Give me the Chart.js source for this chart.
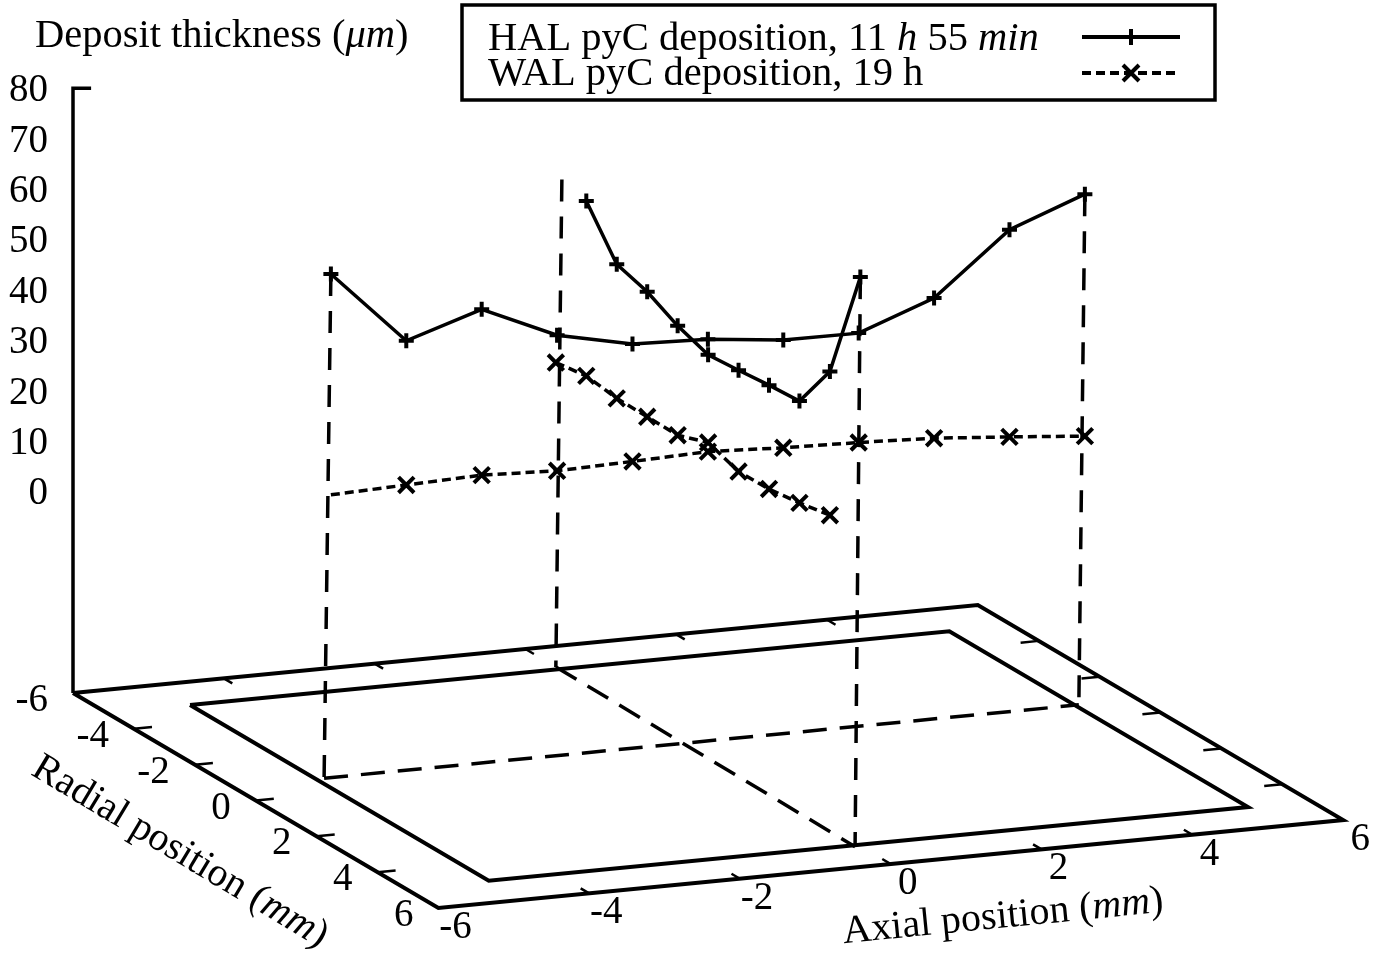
<!DOCTYPE html>
<html>
<head>
<meta charset="utf-8">
<style>
html, body { margin: 0; padding: 0; background: #fff; }
#wrap { width: 1388px; height: 962px; }
</style>
<script src="https://cdn.jsdelivr.net/npm/chart.js@4.4.1/dist/chart.umd.min.js"></script>
</head>
<body>
<div id="wrap"><canvas id="chart" width="1388" height="962"></canvas></div>
<script>
// ---- values ----
// axial scan (radial position fixed)
const axialPos = [-4.7, -3.7, -2.7, -1.7, -0.7, 0.3, 1.3, 2.3, 3.3, 4.3, 5.3];
const axialScanRadial = -0.75;
const halAxial = [59.9, 45.2, 50.0, 43.4, 40.2, 39.7, 38.1, 38.0, 43.5, 55.6, 61.2];
const walAxial = [16.1, 16.6, 17.1, 16.5, 16.9, 17.4, 16.7, 16.3, 15.7, 14.5, 13.2];

// radial scan (axial position fixed)
const radialScanAxial = 0;
const halRadialPos = [-4, -3, -2, -1, 0, 1, 2, 3, 4, 5];
const halRadial = [56.0, 47.0, 45.1, 41.9, 39.7, 40.2, 40.8, 41.2, 50.6, 72.9];
const walRadialPos = [-5, -4, -3, -2, -1, 0, 1, 2, 3, 4];
const walRadial = [20.4, 21.3, 20.4, 20.3, 20.2, 22.3, 20.1, 20.2, 21.0, 22.1];

// drop lines down to the base plane (top end, base end)
const dropTopAxial = [-4.7, 5.3, 0.08, 0];
const dropBaseAxial = [-4.79, 5.22, 0, -0.07];
const dropRadial = [-0.75, -0.75, -5, 5];
const dropTop = [59.9, 61.2, 56.6, 72.9];

// axes / base plane
const zTicks = [0, 10, 20, 30, 40, 50, 60, 70, 80];
const planeTicks = [-6, -4, -2, 0, 2, 4, 6];
const planeRange = [-6, 6];
const sampleAxial = [-4.9, 5.17];
const sampleRadial = [-4.88, 4.93];
const zBase = -40;

// ---- view ----
const W = 1388, H = 962;
const VIEW = { ox: 73, oy: 693, ax: 75.4, ay: -7.33, rx: 30.45, ry: 17.92, zs: 5.04 };

function project(a, r, z) {
    return {
        x: VIEW.ox + (a + 6) * VIEW.ax + (r + 6) * VIEW.rx,
        y: VIEW.oy + (a + 6) * VIEW.ay + (r + 6) * VIEW.ry - (z - zBase) * VIEW.zs
    };
}

const GAP = { x: null, y: null };

function segments(list) {
    const out = [];
    list.forEach((seg, i) => {
        if (i) out.push(GAP);
        seg.forEach(p => out.push(project(p[0], p[1], p[2])));
    });
    return out;
}

function lineSet(data, extra) {
    return Object.assign({
        data,
        showLine: true,
        borderColor: '#000',
        backgroundColor: '#000',
        borderWidth: 3.5,
        pointRadius: 0,
        spanGaps: false,
        clip: false
    }, extra);
}

// base rectangles
const [lo, hi] = planeRange;
const zTop = zTicks[zTicks.length - 1];
const outerRect = segments([[[lo, lo, zBase], [hi, lo, zBase], [hi, hi, zBase], [lo, hi, zBase], [lo, lo, zBase]]]);
const innerRect = segments([[
    [sampleAxial[0], sampleRadial[0], zBase], [sampleAxial[1], sampleRadial[0], zBase],
    [sampleAxial[1], sampleRadial[1], zBase], [sampleAxial[0], sampleRadial[1], zBase],
    [sampleAxial[0], sampleRadial[0], zBase]
]]);

// tick marks on the base frame
const tickSegs = [];
planeTicks.slice(1, -1).forEach(t => {
    tickSegs.push([[lo, t, zBase], [lo + 0.24, t, zBase]]);
    tickSegs.push([[hi, t, zBase], [hi - 0.24, t, zBase]]);
    tickSegs.push([[t, hi, zBase], [t, hi - 0.28, zBase]]);
    tickSegs.push([[t, lo, zBase], [t, lo + 0.28, zBase]]);
});
// z axis with a level tick at its top
const topTickLen = 0.24;
const topTickLevel = zTop + topTickLen * VIEW.ay / VIEW.zs;
const zAxis = segments([[[lo, lo, zBase], [lo, lo, zTop], [lo + topTickLen, lo, topTickLevel]]]);

const baseScan = segments([
    [[dropBaseAxial[0], axialScanRadial, zBase], [dropBaseAxial[1], axialScanRadial, zBase]],
    [[dropBaseAxial[2], dropRadial[2], zBase], [dropBaseAxial[3], dropRadial[3], zBase]]
]);

const drops = segments(dropTopAxial.map((a, i) => [[a, dropRadial[i], dropTop[i]], [dropBaseAxial[i], dropRadial[i], zBase]]));

const halAxialPts = axialPos.map((a, i) => project(a, axialScanRadial, halAxial[i]));
const walAxialPts = axialPos.map((a, i) => project(a, axialScanRadial, walAxial[i]));
const halRadialPts = halRadialPos.map((r, i) => project(radialScanAxial, r, halRadial[i]));
const walRadialPts = walRadialPos.map((r, i) => project(radialScanAxial, r, walRadial[i]));

const halStyle = { pointStyle: 'cross', pointRadius: 7.5, pointBorderWidth: 4, pointBorderColor: '#000' };
const walStyle = { pointStyle: 'crossRot', pointRadius: 11, pointBorderWidth: 4, pointBorderColor: '#000', borderDash: [9, 5] };

const datasets = [
    lineSet(halAxialPts, halStyle),
    lineSet(halRadialPts, halStyle),
    lineSet(walAxialPts, Object.assign({}, walStyle, { pointRadius: walAxialPts.map((p, i) => i === 0 ? 0 : 11) })),
    lineSet(walRadialPts, walStyle),
    lineSet(drops, { borderDash: [22, 15], borderWidth: 3.5 }),
    lineSet(baseScan, { borderDash: [24, 13], borderWidth: 3.5 }),
    lineSet(segments(tickSegs), { borderWidth: 2.5 }),
    lineSet(zAxis, { borderWidth: 3.5, borderJoinStyle: 'miter' }),
    lineSet(innerRect, { borderWidth: 4 }),
    lineSet(outerRect, { borderWidth: 4 })
];

// ---- texts ----
const FONT = '"Liberation Serif", "Times New Roman", serif';
function rich(ctx, parts, x, y, align, size) {
    let total = 0;
    parts.forEach(p => { ctx.font = (p[1] ? 'italic ' : '') + size + 'px ' + FONT; total += ctx.measureText(p[0]).width; });
    let cx = align === 'right' ? x - total : align === 'center' ? x - total / 2 : x;
    ctx.textAlign = 'left';
    parts.forEach(p => {
        ctx.font = (p[1] ? 'italic ' : '') + size + 'px ' + FONT;
        ctx.fillText(p[0], cx, y);
        cx += ctx.measureText(p[0]).width;
    });
}

const textPlugin = {
    id: 'texts',
    afterDraw(chart) {
        const ctx = chart.ctx;
        const at = (a, r, z) => {
            const p = project(a, r, z);
            return { x: chart.scales.x.getPixelForValue(p.x), y: chart.scales.y.getPixelForValue(p.y) };
        };
        ctx.save();
        ctx.fillStyle = '#000';
        ctx.textBaseline = 'alphabetic';

        zTicks.forEach(z => {
            const p = at(lo, lo, z);
            rich(ctx, [[String(z)]], p.x - 25, p.y + 13, 'right', 39);
        });
        planeTicks.forEach(t => {
            const p = at(lo, t, zBase);
            rich(ctx, [[String(t)]], p.x - 25, p.y + 18, 'right', 39);
            const q = at(t, hi, zBase);
            rich(ctx, [[String(t)]], q.x + 17, q.y + 30, 'center', 39);
        });

        rich(ctx, [['Deposit thickness ('], ['\u03bcm', true], [')']], 35, 47, 'left', 40.5);

        ctx.save();
        ctx.translate(180, 852);
        ctx.rotate(31 * Math.PI / 180);
        ctx.textBaseline = 'middle';
        rich(ctx, [['Radial position ('], ['mm', true], [')']], 0, 0, 'center', 40);
        ctx.restore();

        ctx.save();
        ctx.translate(1003, 917);
        ctx.rotate(-5.6 * Math.PI / 180);
        ctx.textBaseline = 'middle';
        rich(ctx, [['Axial position ('], ['mm', true], [')']], 0, 0, 'center', 40);
        ctx.restore();

        // key box
        ctx.lineWidth = 3.5;
        ctx.strokeStyle = '#000';
        ctx.strokeRect(462, 5, 753, 95);
        rich(ctx, [['HAL pyC deposition, 11 '], ['h', true], [' 55 '], ['min', true]], 488, 50, 'left', 40.5);
        rich(ctx, [['WAL pyC deposition, 19 h']], 488, 85, 'left', 40.5);

        ctx.lineWidth = 4;
        ctx.beginPath(); ctx.moveTo(1082, 37); ctx.lineTo(1180, 37); ctx.stroke();
        ctx.beginPath(); ctx.moveTo(1131, 29); ctx.lineTo(1131, 45); ctx.moveTo(1123, 37); ctx.lineTo(1139, 37); ctx.stroke();
        ctx.setLineDash([9, 5]);
        ctx.beginPath(); ctx.moveTo(1082, 73); ctx.lineTo(1180, 73); ctx.stroke();
        ctx.setLineDash([]);
        ctx.beginPath(); ctx.moveTo(1123, 65); ctx.lineTo(1139, 81); ctx.moveTo(1139, 65); ctx.lineTo(1123, 81); ctx.stroke();
        ctx.restore();
    }
};

new Chart(document.getElementById('chart'), {
    type: 'scatter',
    data: { datasets },
    options: {
        responsive: false,
        animation: false,
        events: [],
        layout: { padding: 0, autoPadding: false },
        scales: {
            x: { type: 'linear', display: false, min: 0, max: W },
            y: { type: 'linear', display: false, min: 0, max: H, reverse: true }
        },
        plugins: { legend: { display: false }, tooltip: { enabled: false } },
        elements: { line: { tension: 0 } }
    },
    plugins: [textPlugin]
});
</script>
</body>
</html>
